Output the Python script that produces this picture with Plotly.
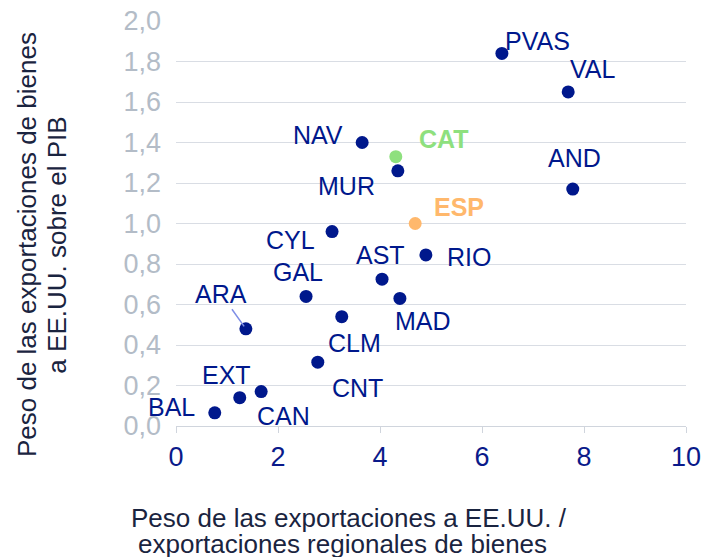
import plotly.graph_objects as go

regions = ["PVAS", "VAL", "NAV", "CAT", "MUR", "AND", "ESP", "CYL", "RIO", "AST",
           "GAL", "MAD", "CLM", "ARA", "CNT", "CAN", "EXT", "BAL"]
x_share = [6.39, 7.69, 3.65, 4.31, 4.35, 7.78, 4.69, 3.06, 4.90, 4.04,
           2.55, 4.39, 3.25, 1.37, 2.78, 1.67, 1.25, 0.76]
y_gdp = [1.84, 1.65, 1.40, 1.33, 1.26, 1.17, 1.00, 0.96, 0.845, 0.725,
         0.64, 0.63, 0.54, 0.48, 0.315, 0.17, 0.14, 0.065]
x_ticks = [0, 2, 4, 6, 8, 10]
y_ticks = [0.0, 0.2, 0.4, 0.6, 0.8, 1.0, 1.2, 1.4, 1.6, 1.8, 2.0]
y_title_lines = ["Peso de las exportaciones de bienes", "a EE.UU. sobre el PIB"]
x_title_lines = ["Peso de las exportaciones a EE.UU. /", "exportaciones regionales de bienes"]

NAVY = "#00188c"
GREEN = "#8ee07e"
ORANGE = "#ffb86c"
special = {"CAT": GREEN, "ESP": ORANGE}
colors = [special.get(r, NAVY) for r in regions]

# label offsets in pixels (dx, dy up-positive, xanchor)
label_pos = {
    "PVAS": (1, 12, "left"), "VAL": (0, 23, "left"), "NAV": (-17, 8, "right"),
    "CAT": (21, 18, "left"), "MUR": (-21, -15, "right"), "AND": (2, 31, "center"),
    "ESP": (17, 17, "left"), "CYL": (-15, -8, "right"), "RIO": (19, -2, "left"),
    "AST": (-2, 24, "center"), "GAL": (-8, 24, "center"), "MAD": (-7, -23, "left"),
    "CLM": (13, -26, "center"), "CNT": (12, -26, "left"), "CAN": (-6, -24, "left"),
    "EXT": (-13, 23, "center"), "BAL": (-18, 6, "right"),
}

FONT = "Liberation Sans"
LBL = 25
TITLE_COLOR = "#1a2440"

fig = go.Figure()
fig.add_trace(go.Scatter(
    x=x_share, y=y_gdp, mode="markers",
    marker=dict(size=13, color=colors, line=dict(width=0)),
    hoverinfo="text", text=regions, showlegend=False,
))

annotations = []
for r, xv, yv, c in zip(regions, x_share, y_gdp, colors):
    bold = r in special
    txt = f"<b>{r}</b>" if bold else r
    if r == "ARA":
        annotations.append(dict(
            x=xv, y=yv, xref="x", yref="y", text=txt, showarrow=True,
            ax=-25, ay=-35, arrowhead=0, arrowwidth=1.5, arrowcolor="#7f8fe6",
            standoff=3, font=dict(family=FONT, size=LBL, color=c),
        ))
        continue
    dx, dy, xa = label_pos[r]
    annotations.append(dict(
        x=xv, y=yv, xref="x", yref="y", text=txt, showarrow=False,
        xshift=dx, yshift=dy, xanchor=xa, yanchor="middle",
        font=dict(family=FONT, size=LBL, color=c),
    ))

# axis titles (one annotation per line for tight line spacing)
for line, px in zip(y_title_lines, [-0.292, -0.234]):
    annotations.append(dict(
        x=px, y=0.447, xref="paper", yref="paper", xanchor="center", yanchor="middle",
        text=line, showarrow=False, textangle=-90,
        font=dict(family=FONT, size=26, color=TITLE_COLOR),
    ))
for line, px, py in zip(x_title_lines, [0.339, 0.327], [-0.227, -0.291]):
    annotations.append(dict(
        x=px, y=py, xref="paper", yref="paper", xanchor="center", yanchor="middle",
        text=line, showarrow=False,
        font=dict(family=FONT, size=26, color=TITLE_COLOR),
    ))

fig.update_layout(
    width=704, height=557,
    margin=dict(l=176, r=18, t=21, b=131),
    paper_bgcolor="white", plot_bgcolor="white",
    separators=",.",
    font=dict(family=FONT),
    annotations=annotations,
    xaxis=dict(
        range=[0, 10], tickvals=x_ticks, showgrid=False, zeroline=False,
        showline=True, linecolor="#d0d5dd", linewidth=1, automargin=False,
        ticks="outside", ticklen=6, tickcolor="#d0d5dd", ticklabelstandoff=1,
        tickfont=dict(family=FONT, size=27, color="#0a1a8a"),
    ),
    yaxis=dict(
        range=[0, 2.0], tickvals=y_ticks, tickformat=".1f", automargin=False,
        showgrid=True, gridcolor="#d9dde4", gridwidth=1, zeroline=False,
        showline=False, ticks="", ticklabelstandoff=14,
        tickfont=dict(family=FONT, size=27, color="#b3bcc7"),
    ),
)

fig.write_html("out.html", config={"displayModeBar": False},
               post_script="document.body.style.margin='0';")
